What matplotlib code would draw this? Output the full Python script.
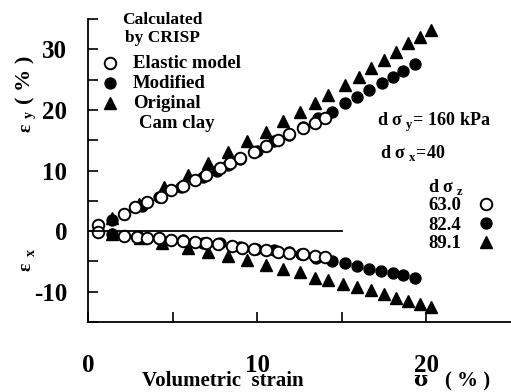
import matplotlib.pyplot as plt

plt.rcParams['font.family'] = ['Liberation Serif', 'DejaVu Serif']
plt.rcParams['font.weight'] = 'bold'
plt.rcParams['mathtext.fontset'] = 'custom'
plt.rcParams['mathtext.rm'] = 'Liberation Serif:bold'
plt.rcParams['mathtext.bf'] = 'Liberation Serif:bold'

# epsilon_y (upper branch)
ey_elastic_x = [0.6, 2.1, 2.8, 3.5, 4.3, 4.9, 5.6, 6.3, 7.0, 7.8, 8.4, 9.0, 9.8, 10.5, 11.2, 11.9, 12.7, 13.4, 14.0]
ey_elastic_y = [1.0, 2.9, 3.9, 4.8, 5.7, 6.7, 7.4, 8.4, 9.3, 10.4, 11.2, 12.0, 13.1, 14.0, 15.0, 16.0, 17.0, 17.8, 18.6]
ey_modified_x = [1.4, 3.2, 4.2, 5.5, 6.8, 7.6, 8.3, 9.0, 10.0, 11.0, 11.9, 12.7, 13.6, 14.4, 15.2, 15.9, 16.6, 17.4, 18.0, 18.6, 19.3]
ey_modified_y = [1.9, 4.2, 5.7, 7.3, 8.9, 9.9, 10.9, 11.9, 13.2, 14.8, 15.9, 17.2, 18.6, 19.7, 21.1, 22.1, 23.3, 24.4, 25.4, 26.5, 27.6]
ey_camclay_x = [1.4, 3.0, 4.5, 5.9, 7.1, 8.3, 9.4, 10.5, 11.5, 12.5, 13.4, 14.2, 15.2, 16.0, 16.7, 17.5, 18.2, 18.9, 19.6, 20.3]
ey_camclay_y = [2.2, 4.4, 7.2, 9.3, 11.2, 13.0, 14.8, 16.3, 18.1, 19.7, 21.1, 22.5, 24.1, 25.5, 26.9, 28.3, 29.6, 31.0, 32.1, 33.2]

# epsilon_x (lower branch)
ex_elastic_x = [0.6, 2.1, 2.9, 3.5, 4.2, 4.9, 5.6, 6.3, 7.0, 7.7, 8.5, 9.1, 9.8, 10.5, 11.2, 11.9, 12.7, 13.4, 14.0]
ex_elastic_y = [-0.1, -0.8, -0.9, -1.1, -1.2, -1.5, -1.6, -1.8, -2.0, -2.2, -2.5, -2.8, -2.9, -3.1, -3.4, -3.6, -3.8, -4.1, -4.2]
ex_modified_x = [1.4, 3.0, 4.2, 5.6, 6.8, 7.8, 9.0, 9.9, 11.0, 11.9, 12.6, 13.5, 14.4, 15.2, 15.9, 16.6, 17.3, 18.0, 18.6, 19.3]
ex_modified_y = [-0.4, -1.0, -1.2, -1.5, -1.9, -2.0, -2.6, -2.9, -3.2, -3.5, -3.8, -4.5, -4.9, -5.3, -5.8, -6.2, -6.6, -6.9, -7.3, -7.7]
ex_camclay_x = [1.4, 3.1, 4.4, 5.9, 7.1, 8.3, 9.4, 10.5, 11.5, 12.5, 13.4, 14.2, 15.1, 15.9, 16.7, 17.5, 18.2, 18.9, 19.6, 20.3]
ex_camclay_y = [-0.5, -1.2, -2.0, -2.8, -3.5, -4.1, -4.8, -5.6, -6.2, -6.8, -7.7, -8.1, -8.8, -9.3, -9.8, -10.4, -11.0, -11.6, -12.1, -12.6]

dsz_values = ['63.0', '82.4', '89.1']

fig = plt.figure(figsize=(5.11, 3.92), dpi=100)
ax = fig.add_axes([88 / 511, 1 - 322 / 392, 1 - 88 / 511, 303 / 392])
ax.set_xlim(0, 25)
ax.set_ylim(-15, 35)

ms = 8.3
open_kw = dict(marker='o', mfc='white', mec='black', mew=1.4, ms=ms, ls='none')
fill_kw = dict(marker='o', mfc='black', mec='black', ms=ms - 0.4, ls='none')
tri_kw = dict(marker='^', mfc='black', mec='black', ms=ms, ls='none')

# draw Cam clay first, modified, then elastic on top
ax.plot(ey_camclay_x, ey_camclay_y, **tri_kw, clip_on=False)
ax.plot(ex_camclay_x, ex_camclay_y, **tri_kw, clip_on=False)
ax.plot(ey_modified_x, ey_modified_y, **fill_kw)
ax.plot(ex_modified_x, ex_modified_y, **fill_kw)
ax.plot(ey_elastic_x, ey_elastic_y, **open_kw)
ax.plot(ex_elastic_x, ex_elastic_y, **open_kw)

ax.plot([0, 15], [0, 0], color='black', lw=1.3)

for s in ['top', 'right']:
    ax.spines[s].set_visible(False)
for s in ['left', 'bottom']:
    ax.spines[s].set_linewidth(1.3)

ax.set_yticks(range(-15, 36, 5))
ax.set_yticklabels(['' if v % 10 else str(v) for v in range(-15, 36, 5)])
ax.set_xticks([0, 5, 10, 15, 20])
ax.set_xticklabels(['0', '', '10', '', '20'])
ax.tick_params(axis='y', direction='in', length=7, width=1.2, pad=15, labelsize=18)
ax.tick_params(axis='x', direction='in', length=7, width=1.2, pad=23, labelsize=18)
for lab in ax.get_xticklabels() + ax.get_yticklabels():
    lab.set_fontweight('bold')

# axis titles
fig.text(142 / 511, 1 - 381 / 392, 'Volumetric  strain', fontsize=15, ha='left', va='center')
fig.text(420 / 511, 1 - 380 / 392, 'ʊ', fontsize=15, ha='center', va='center',
         family=['DejaVu Serif', 'Liberation Serif'])
fig.text(468 / 511, 1 - 381 / 392, '( % )', fontsize=15, ha='center', va='center')

fig.text(26 / 511, 1 - 128 / 392, 'ε', fontsize=14, rotation=90, ha='center', va='center')
fig.text(29 / 511, 1 - 114 / 392, 'y', fontsize=10, rotation=90, ha='center', va='center')
fig.text(25 / 511, 1 - 80 / 392, '( % )', fontsize=16, rotation=90, ha='center', va='center')
fig.text(26 / 511, 1 - 267 / 392, 'ε', fontsize=14, rotation=90, ha='center', va='center')
fig.text(31 / 511, 1 - 253 / 392, 'x', fontsize=10, rotation=90, ha='center', va='center')

# model legend
fig.text(162 / 511, 1 - 20 / 392, 'Calculated', fontsize=12.5, ha='center', va='center')
fig.text(162 / 511, 1 - 38 / 392, 'by CRISP', fontsize=12.5, ha='center', va='center')
leg_rows = [('Elastic model', open_kw, 63), ('Modified', fill_kw, 83), ('Original', tri_kw, 103)]
for label, kw, ypix in leg_rows:
    fig.text(133 / 511, 1 - ypix / 392, label, fontsize=13.5, ha='left', va='center')
    ax.plot([110 / 511], [1 - ypix / 392], transform=fig.transFigure, clip_on=False, **kw)
fig.text(139 / 511, 1 - 123 / 392, 'Cam clay', fontsize=13.5, ha='left', va='center')

# loading conditions
fig.text(377 / 511, 1 - 122 / 392, r'd σ $_{\mathbf{y}}$= 160 kPa', fontsize=13, ha='left', va='center')
fig.text(380 / 511, 1 - 153 / 392, r'd σ $_{\mathbf{x}}$=40', fontsize=13, ha='left', va='center')
fig.text(428 / 511, 1 - 187 / 392, r'd σ $_{\mathbf{z}}$', fontsize=13, ha='left', va='center')
for val, kw, ypix in zip(dsz_values, [open_kw, fill_kw, tri_kw], [206, 225, 244]):
    fig.text(428 / 511, 1 - ypix / 392, val, fontsize=13.5, ha='left', va='center')
    ax.plot([486 / 511], [1 - (ypix - 2) / 392], transform=fig.transFigure, clip_on=False, **kw)

fig.savefig('out.png', dpi=100)
